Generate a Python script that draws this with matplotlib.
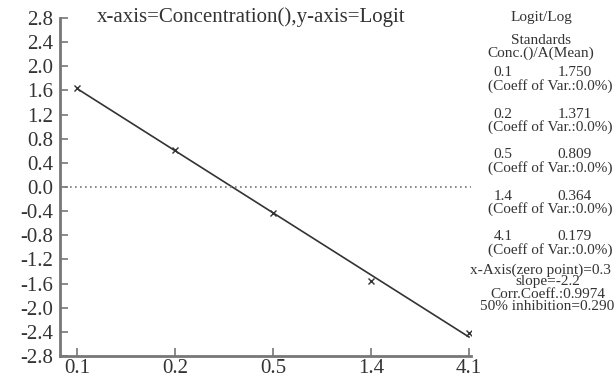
import matplotlib
matplotlib.use("Agg")
import matplotlib.pyplot as plt
import numpy as np

# data
conc_labels = ["0.1", "0.2", "0.5", "1.4", "4.1"]
logit = [1.64, 0.62, -0.43, -1.55, -2.42]
a_mean = ["1.750", "1.371", "0.809", "0.364", "0.179"]
cv = ["0.0%", "0.0%", "0.0%", "0.0%", "0.0%"]
yticks = [2.8, 2.4, 2.0, 1.6, 1.2, 0.8, 0.4, 0.0, -0.4, -0.8, -1.2, -1.6, -2.0, -2.4, -2.8]
summary = ["x-Axis(zero point)=0.3", "slope=-2.2", "Corr.Coeff.:0.9974", "50% inhibition=0.290"]

plt.rcParams["font.family"] = ["Liberation Serif", "DejaVu Serif"]
W, H = 616, 378
dpi = 100
fig = plt.figure(figsize=(W / dpi, H / dpi), dpi=dpi)
ax = fig.add_axes([60 / W, 22 / H, 411 / W, 338 / H])

x = np.arange(len(conc_labels))
y = np.array(logit)
k, b = np.polyfit(x, y, 1)
ax.plot(x, k * x + b, color="#333333", lw=1.2)
ax.plot(x, y, "x", color="#333333", ms=5, mew=1.0)
ax.axhline(0, color="#777777", lw=1.2, ls=(0, (1, 2)))

ax.set_xlim(-0.174, 4.02)
ax.set_ylim(-2.8, 2.8)
ax.set_xticks(x)
ax.set_xticklabels(conc_labels)
ax.set_yticks(yticks)
ax.set_yticklabels(["%.1f" % v for v in yticks])
ax.tick_params(direction="in", length=6, width=1.2, color="#777777",
               labelsize=15, labelcolor="#333333", pad=5)
ax.tick_params(axis="x", pad=2)
for s in ["top", "right"]:
    ax.spines[s].set_visible(False)
for s in ["left", "bottom"]:
    ax.spines[s].set_color("#777777")
    ax.spines[s].set_linewidth(2)

fig.text(97 / W, 1 - 17 / H, "x-axis=Concentration(),y-axis=Logit",
         fontsize=15, color="#333333", ha="left", va="center")

def ftext(px, py, s, ha="center"):
    fig.text(px / W, 1 - py / H, s, fontsize=11, color="#333333", ha=ha, va="center")

ftext(541, 17, "Logit/Log")
ftext(541, 40, "Standards")
ftext(541, 53, "Conc.()/A(Mean)")
for i in range(len(conc_labels)):
    yy = 73 + i * 41
    ftext(503, yy, conc_labels[i])
    ftext(575, yy, a_mean[i])
    ftext(550, yy + 13, "(Coeff of Var.:" + cv[i] + ")")
ftext(470, 270, summary[0], ha="left")
ftext(548, 282, summary[1])
ftext(548, 294, summary[2])
ftext(547, 306, summary[3])

fig.savefig("out.png", dpi=dpi)
